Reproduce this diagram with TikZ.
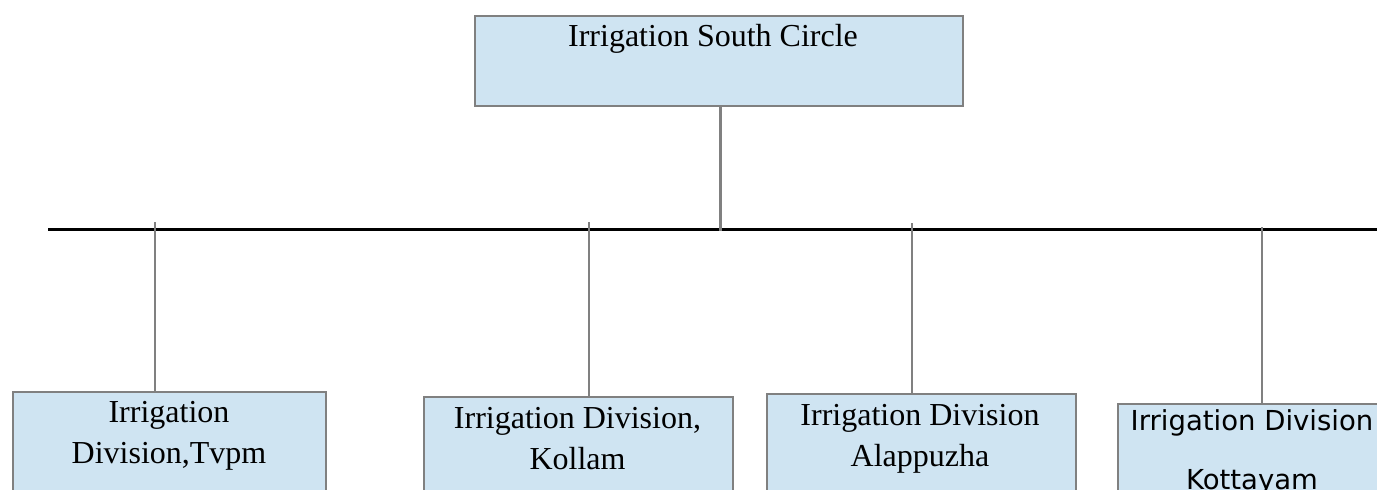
\documentclass[tikz,border=0pt]{standalone}
\usepackage{fontspec}
\setmainfont{Liberation Serif}
\newfontfamily\dvsans{DejaVu Sans}
\definecolor{boxfill}{RGB}{207,228,242}
\definecolor{boxline}{RGB}{128,128,128}
\begin{document}
\begin{tikzpicture}[x=1pt,y=-1pt,
  box/.style={draw=boxline, line width=2pt, fill=boxfill, rectangle, inner sep=0pt, anchor=north west},
  lbl/.style={font=\fontsize{32}{41}\selectfont, align=center, inner sep=0pt, anchor=base},
  sanslbl/.style={font=\dvsans\fontsize{27.5}{59}\selectfont, align=center, inner sep=0pt, anchor=base},
  feed/.style={draw=boxline, line width=1.5pt},
  bus/.style={draw=black, line width=3pt}]
\useasboundingbox (0,0) rectangle (1377,490);
\clip (0,0) rectangle (1377,490);
% boxes
\node[box, minimum width=488.5, minimum height=90] (top) at (473.5,15) {};
\node[box, minimum width=313, minimum height=140] (b1) at (12,391) {};
\node[box, minimum width=309, minimum height=140] (b2) at (423,396) {};
\node[box, minimum width=309, minimum height=140] (b3) at (766,393) {};
\node[box, minimum width=270, minimum height=140] (b4) at (1117,403) {};
% labels (base anchor = baseline of last line)
\node[lbl] (t0) at (713,46) {Irrigation South Circle};
\node[lbl] (t1) at (169,463) {Irrigation\\Division,Tvpm};
\node[lbl] (t2) at (577.5,469) {Irrigation Division,\\Kollam};
\node[lbl] (t3) at (920,466) {Irrigation Division\\Alappuzha};
\node[sanslbl] (t4) at (1252,489) {Irrigation Division\\Kottayam};
% bus
\coordinate (busL) at (48,229);
\coordinate (busR) at (1380,229);
\draw[bus] (busL) -- (busR);
% connectors
\coordinate (j0) at (720,231);
\draw[draw=boxline, line width=3pt] (top.south -| j0) -- (j0);
\coordinate (j1) at (155,222);
\coordinate (j2) at (589,222);
\coordinate (j3) at (912,223);
\coordinate (j4) at (1262,227);
\draw[feed] (j1) -- (j1 |- b1.north);
\draw[feed] (j2) -- (j2 |- b2.north);
\draw[feed] (j3) -- (j3 |- b3.north);
\draw[feed] (j4) -- (j4 |- b4.north);
\end{tikzpicture}
\end{document}
